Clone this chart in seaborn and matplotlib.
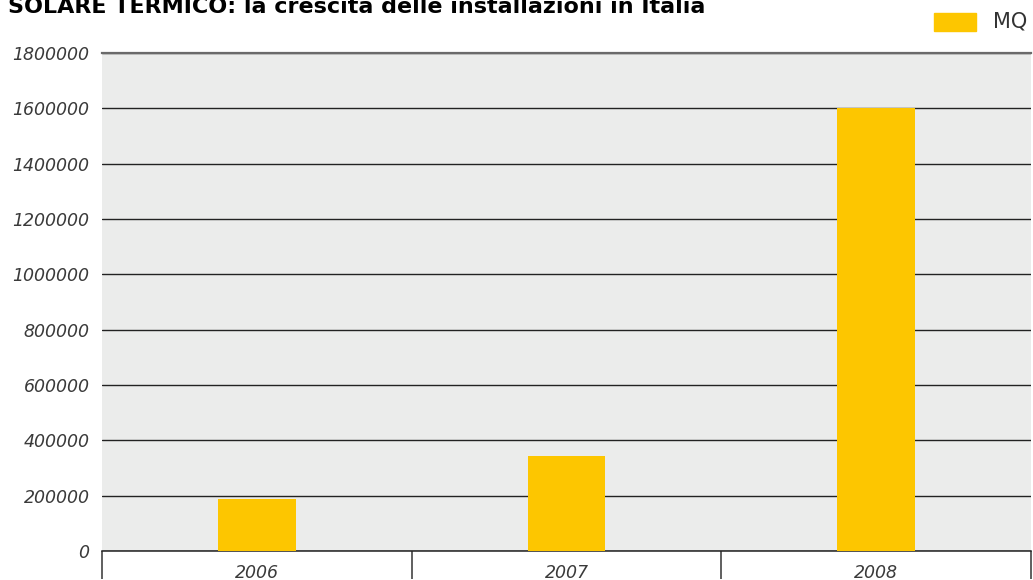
import matplotlib
matplotlib.use("Agg")
import matplotlib.pyplot as plt
import seaborn as sns
import pandas as pd

# Installed solar thermal surface in Italy (square metres)
years = ["2006", "2007", "2008"]
mq = [189000, 343000, 1602000]
y_ticks = [0, 200000, 400000, 600000, 800000, 1000000, 1200000, 1400000, 1600000, 1800000]

title = "SOLARE TERMICO: la crescita delle installazioni in Italia"
series_label = "MQ"

bar_color = "#FDC600"
panel_color = "#EBECEB"
text_color = "#3a3a3a"

sns.set_style("white")
plt.rcParams["font.family"] = ["DejaVu Sans"]

df = pd.DataFrame({"anno": years, "mq": mq})

W, H = 1033, 580
fig = plt.figure(figsize=(W / 100, H / 100), dpi=100)
ax = fig.add_axes([102 / W, 1 - 551 / H, (1031 - 102) / W, (551 - 53) / H])
ax.set_facecolor(panel_color)

sns.barplot(data=df, x="anno", y="mq", color=bar_color, width=0.25,
            saturation=1, linewidth=0, edgecolor="none", ax=ax, zorder=3)

ax.set_xlim(-0.5, 2.5)
ax.set_ylim(0, 1800000)
ax.set_xlabel("")
ax.set_ylabel("")

# horizontal gridlines
ax.set_yticks(y_ticks)
ax.set_yticklabels([str(v) for v in y_ticks])
ax.yaxis.grid(True, color="#222222", linewidth=1.0, zorder=1)
ax.xaxis.grid(False)
ax.set_axisbelow(True)

# spines: dark baseline, grey top rule
for s in ("left", "right"):
    ax.spines[s].set_visible(False)
ax.spines["bottom"].set_color("#222222")
ax.spines["bottom"].set_linewidth(1.1)
ax.spines["top"].set_visible(True)
ax.spines["top"].set_color("#6a6a6a")
ax.spines["top"].set_linewidth(1.6)

ax.tick_params(axis="y", left=False, length=0, pad=9, labelsize=12.5, labelcolor=text_color)
for t in ax.get_yticklabels():
    t.set_fontstyle("italic")

# category separators below the baseline
ax.set_xticks([-0.5, 0.5, 1.5, 2.5], minor=True)
ax.tick_params(axis="x", which="minor", bottom=True, length=20, width=1.2,
               color="#444444", direction="out")
ax.tick_params(axis="x", which="major", bottom=False, length=0, pad=9,
               labelsize=12.5, labelcolor=text_color)
for t in ax.get_xticklabels():
    t.set_fontstyle("italic")

# title
fig.text(8 / W, 1 - 13 / H, title, fontsize=16, fontweight="bold",
         color="#000000", ha="left", va="baseline")

# legend swatch and label
fig.patches.append(plt.Rectangle((934 / W, 1 - 31 / H), 42 / W, 18 / H,
                                 transform=fig.transFigure, color=bar_color,
                                 figure=fig))
fig.text(993 / W, 1 - 22 / H, series_label, fontsize=15,
         color="#333333", ha="left", va="center")

fig.savefig("out.png", dpi=100)
